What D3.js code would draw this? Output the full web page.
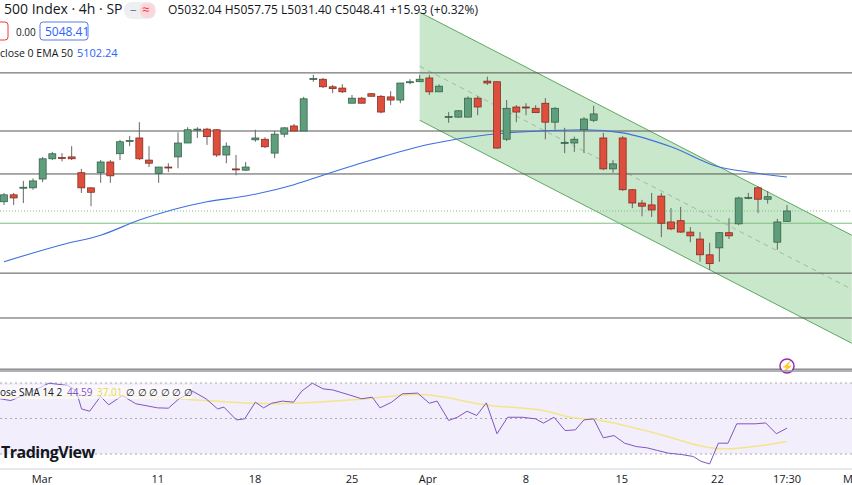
<!DOCTYPE html>
<html>
<head>
<meta charset="utf-8">
<script src="https://cdn.jsdelivr.net/npm/d3@7"></script>
<style>
  body { margin: 0; background: #fff; }
  svg { font-family: "Open Sans", "Noto Sans", sans-serif; }
</style>
</head>
<body>
<div class="chart-wrapper"></div>
<script>
// candles: [open, high, low, close], 4h bars
const candles = [
  [5063,5077,5058,5074],[5074,5077,5058,5069],[5085,5096,5061,5086],[5085,5100,5082,5096],
  [5099,5134,5094,5131],[5131,5142,5129,5139],[5133,5140,5127,5132],[5134,5151,5129,5131],
  [5109,5115,5077,5085],[5085,5086,5056,5078],[5109,5129,5093,5126],[5126,5129,5093,5104],
  [5139,5161,5129,5158],[5159,5167,5151,5160],[5164,5189,5129,5131],[5129,5151,5118,5124],
  [5108,5118,5093,5118],[5118,5124,5110,5117],[5134,5173,5116,5156],[5156,5181,5156,5177],
  [5178,5181,5164,5178],[5178,5180,5153,5166],[5177,5178,5134,5137],[5137,5157,5124,5151],
  [5115,5137,5105,5114],[5113,5126,5112,5118],[5161,5177,5158,5164],[5162,5165,5148,5150],
  [5140,5175,5132,5170],[5170,5181,5165,5180],[5183,5186,5175,5175],[5175,5229,5175,5226],
  [5257,5264,5253,5258],[5257,5259,5243,5245],[5245,5248,5235,5242],[5243,5249,5235,5237],
  [5219,5232,5219,5227],[5227,5229,5219,5219],[5234,5235,5230,5230],[5230,5232,5203,5205],
  [5229,5238,5216,5224],[5224,5251,5219,5251],[5252,5257,5249,5253],[5253,5264,5253,5257],
  [5259,5264,5232,5237],[5237,5249,5237,5246],[5197,5205,5188,5198],[5197,5208,5196,5207],
  [5197,5230,5197,5227],[5227,5230,5200,5213],[5254,5261,5248,5251],[5253,5253,5147,5148],
  [5162,5224,5159,5211],[5213,5216,5189,5205],[5213,5219,5200,5212],[5211,5216,5204,5204],
  [5219,5227,5162,5189],[5189,5213,5177,5211],[5156,5180,5140,5157],[5156,5166,5142,5162],
  [5177,5197,5140,5194],[5192,5215,5189,5202],[5164,5172,5113,5115],[5115,5129,5109,5123],
  [5164,5167,5080,5082],[5082,5083,5053,5061],[5061,5066,5040,5056],[5058,5077,5039,5050],
  [5072,5077,5007,5029],[5031,5053,5018,5020],[5033,5055,5014,5015],[5015,5023,4999,5009],
  [5004,5015,4968,4979],[4979,4998,4955,4965],[4990,5015,4968,5014],[5014,5037,5004,5009],
  [5028,5071,5026,5069],[5069,5077,5067,5070],[5085,5088,5045,5067],[5067,5080,5060,5071],
  [4999,5036,4987,5031],[5032.04,5057.75,5031.40,5048.41]
]

const emaIdx = [0, 6, 10, 14, 21, 25, 30, 33, 38, 44, 50, 53, 60, 64, 69, 74, 77, 81]
const emaVal = [4968, 4995, 5010, 5034, 5063, 5072, 5090, 5105, 5129, 5154, 5169, 5173, 5177, 5172, 5150, 5118, 5110, 5102.24]

const levels = [5267, 5175, 5107, 4950, 4879, 4798]
const greenLevel = 5029
const lastClose = 5048.41

// channel drawing: [index, price]
const chanUpper = [[43, 5363], [87.7, 5010]]
const chanLower = [[43, 5192], [87.7, 4839]]

const rsiIdx = [-0.4,0.7,2.4,4.65,6.6,7.46,8.02,8.86,9.99,10.83,12.24,13.64,15.89,17.0,18.1,19.5,20.9,22.1,22.75,24.04,24.9,26.0,26.85,27.7,28.8,29.95,30.8,31.9,33.0,34.0,35.6,37.0,38.1,38.9,40.1,41.2,42.8,44.0,44.8,46.0,46.9,47.9,48.9,49.9,51.0,52.1,53.6,55.0,55.8,56.9,58.05,59.1,60.0,61.0,62.0,63.1,64.2,65.4,66.5,67.6,68.7,70.1,71.3,72.1,73.0,73.9,74.9,75.8,77.7,78.8,79.9,81.0]
const rsiVal = [61.1,60.1,63.9,69.9,68.6,65.8,55.4,54.1,62.4,57.7,62.9,58.3,56.0,55.8,61.1,65.4,61.1,55.4,56.4,49.2,49.8,59.2,56.0,58.6,59.8,59.2,65.4,69.9,66.7,66.1,63.5,61.1,62.0,56.0,59.2,63.9,64.3,58.6,59.8,48.9,50.7,54.1,51.7,58.8,41.4,50.7,50.7,49.8,47.4,50.7,43.2,43.6,49.2,49.8,39.1,40.4,36.1,34.2,33.5,32.0,30.5,29.7,28.6,25.9,24.4,36.1,36.1,47.0,47.0,47.5,41.4,44.59]
const smaIdx = [-0.4, 13.1, 20.9, 27.7, 36.1, 42.9, 50.2, 55.8, 58.6, 61.4, 67.0, 74.4, 81.0]
const smaVal = [62.4, 62.9, 60.1, 58.3, 60.5, 63.5, 57.3, 54.5, 50.7, 49.2, 42.3, 32.9, 37.01]
const rsiBands = [70, 50, 30]

const dateTicks = [3.93, 15.9, 25.96, 36.0, 43.85, 54.0, 63.9, 73.8, 81.0, 87.3]
const dateLabels = ['Mar', '11', '18', '25', 'Apr', '8', '15', '22', '17:30', 'M']

const W = 852, H = 485
const svg = d3.select('.chart-wrapper').append('svg')
  .attr('width', W).attr('height', H)

const x = d3.scaleLinear().domain([0, 81]).range([4, 787])
const y = d3.scaleLinear().domain([4614.6, 5382.4]).range([485, 0])
const yr = d3.scaleLinear().domain([30, 70]).range([454, 383])

// channel
const chan = svg.append('g')
chan.append('path')
  .attr('d', d3.line()([...chanUpper, ...chanLower.slice().reverse()].map(d => [x(d[0]), y(d[1])])) + 'Z')
  .attr('fill', 'rgba(76,175,80,0.3)')
chan.selectAll('line.edge').data([chanUpper, chanLower]).enter().append('line')
  .attr('x1', d => x(d[0][0])).attr('y1', d => y(d[0][1]))
  .attr('x2', d => x(d[1][0])).attr('y2', d => y(d[1][1]))
  .attr('stroke', '#5ea860').attr('stroke-width', 1)
chan.append('line')
  .attr('x1', x(chanUpper[0][0])).attr('y1', y((chanUpper[0][1] + chanLower[0][1]) / 2))
  .attr('x2', x(chanUpper[1][0])).attr('y2', y((chanUpper[1][1] + chanLower[1][1]) / 2))
  .attr('stroke', '#a8b8a8').attr('stroke-dasharray', '5,4')

// horizontal levels
svg.selectAll('line.lvl').data(levels).enter().append('line')
  .attr('x1', 0).attr('x2', W).attr('y1', d => y(d)).attr('y2', d => y(d))
  .attr('stroke', '#555').attr('stroke-width', 1)
svg.append('line').attr('x1', 0).attr('x2', W).attr('y1', y(greenLevel)).attr('y2', y(greenLevel))
  .attr('stroke', '#7cc07f').attr('stroke-width', 1)
svg.append('line').attr('x1', 0).attr('x2', W).attr('y1', y(lastClose)).attr('y2', y(lastClose))
  .attr('stroke', '#7cc07f').attr('stroke-dasharray', '1,2')

// EMA 50
svg.append('path')
  .attr('d', d3.line().curve(d3.curveMonotoneX)(emaIdx.map((d, i) => [x(d), y(emaVal[i])])))
  .attr('fill', 'none').attr('stroke', '#3d6fe0').attr('stroke-width', 1.1)

// candles
const cg = svg.append('g').selectAll('g').data(candles).enter().append('g')
cg.append('line')
  .attr('x1', (d, i) => x(i)).attr('x2', (d, i) => x(i))
  .attr('y1', d => y(d[1])).attr('y2', d => y(d[2]))
  .attr('stroke', '#666')
cg.append('rect')
  .attr('x', (d, i) => x(i) - 3.5).attr('width', 7)
  .attr('y', d => y(Math.max(d[0], d[3])))
  .attr('height', d => Math.max(1, Math.abs(y(d[0]) - y(d[3]))))
  .attr('fill', d => d[3] >= d[0] ? '#5f9e7d' : '#dd4f3c')
  .attr('stroke', d => d[3] >= d[0] ? '#2c5a40' : '#7a2419')
  .attr('stroke-width', 0.7)

// header legend
const hd = svg.append('g').attr('font-size', 13).attr('fill', '#131722')
hd.append('text').attr('x', 4).attr('y', 14).attr('font-size', 14).text('500 Index · 4h · SP')
hd.append('rect').attr('x', 124).attr('y', 2).attr('width', 32).attr('height', 17).attr('rx', 8).attr('fill', '#eeeff2')
hd.append('text').attr('x', 130).attr('y', 14).attr('fill', '#787b86').text('–')
hd.append('rect').attr('x', 140).attr('y', 3).attr('width', 15).attr('height', 15).attr('rx', 6).attr('fill', '#fbd7dc')
hd.append('text').attr('x', 142).attr('y', 14).attr('fill', '#f23645').text('≈')
hd.append('text').attr('x', 168).attr('y', 14).attr('font-size', 12)
  .text('O5032.04  H5057.75  L5031.40  C5048.41  +15.93 (+0.32%)')
hd.append('rect').attr('x', -6).attr('y', 22).attr('width', 14).attr('height', 18).attr('rx', 3)
  .attr('fill', '#fff').attr('stroke', '#f23645')
hd.append('text').attr('x', 16).attr('y', 36).attr('font-size', 10).text('0.00')
hd.append('rect').attr('x', 40).attr('y', 22).attr('width', 48).attr('height', 18).attr('rx', 3)
  .attr('fill', '#fff').attr('stroke', '#5b7de8')
hd.append('text').attr('x', 45).attr('y', 36).attr('font-size', 12).attr('fill', '#2962ff').text('5048.41')
hd.append('text').attr('x', 0).attr('y', 57).attr('font-size', 10.5).text('close 0 EMA 50')
hd.append('text').attr('x', 77).attr('y', 57).attr('font-size', 11).attr('fill', '#2962ff').text('5102.24')

// lightning badge
svg.append('circle').attr('cx', 787).attr('cy', 366).attr('r', 7).attr('fill', '#fff').attr('stroke', '#9c27b0').attr('stroke-width', 1.5)
svg.append('text').attr('x', 787).attr('y', 370).attr('text-anchor', 'middle').attr('font-size', 10).attr('fill', '#e91e63').text('⚡')

// RSI pane
svg.append('line').attr('x1', 0).attr('x2', W).attr('y1', 371).attr('y2', 371).attr('stroke', '#9598a1').attr('stroke-width', 1.5)
svg.append('rect').attr('x', 0).attr('y', yr(70)).attr('width', W).attr('height', yr(30) - yr(70)).attr('fill', '#f3eefb')
svg.selectAll('line.band').data(rsiBands).enter().append('line')
  .attr('x1', 0).attr('x2', W).attr('y1', d => yr(d)).attr('y2', d => yr(d))
  .attr('stroke', '#aaa').attr('stroke-dasharray', '2,3')
svg.append('line').attr('x1', 0).attr('x2', W).attr('y1', 469).attr('y2', 469).attr('stroke', '#d1d4dc')
svg.append('path')
  .attr('d', d3.line().curve(d3.curveMonotoneX)(smaIdx.map((d, i) => [x(d), yr(smaVal[i])])))
  .attr('fill', 'none').attr('stroke', '#f3e58a').attr('stroke-width', 1.5)
svg.append('path')
  .attr('d', d3.line()(rsiIdx.map((d, i) => [x(d), yr(rsiVal[i])])))
  .attr('fill', 'none').attr('stroke', '#7e57c2').attr('stroke-width', 1)

const rl = svg.append('g').attr('font-size', 10)
rl.append('rect').attr('x', 0).attr('y', 385).attr('width', 192).attr('height', 14).attr('fill', 'rgba(255,255,255,0.6)')
rl.append('text').attr('x', 0).attr('y', 396).attr('fill', '#131722').text('ose SMA 14 2')
rl.append('text').attr('x', 67).attr('y', 396).attr('fill', '#7e57c2').text('44.59')
rl.append('text').attr('x', 97).attr('y', 396).attr('fill', '#e6d84a').text('37.01')
rl.append('text').attr('x', 126).attr('y', 396).attr('fill', '#131722').text('∅ ∅ ∅ ∅ ∅ ∅')
svg.append('text').attr('x', 1).attr('y', 458).attr('font-size', 16).attr('font-weight', 'bold')
  .attr('fill', '#131722').attr('letter-spacing', -0.5).text('TradingView')

// date axis
svg.append('g').selectAll('text').data(dateTicks).enter().append('text')
  .attr('x', d => x(d)).attr('y', 483).attr('text-anchor', 'middle')
  .attr('font-size', 11).attr('fill', '#131722')
  .text((d, i) => dateLabels[i])
</script>
</body>
</html>
